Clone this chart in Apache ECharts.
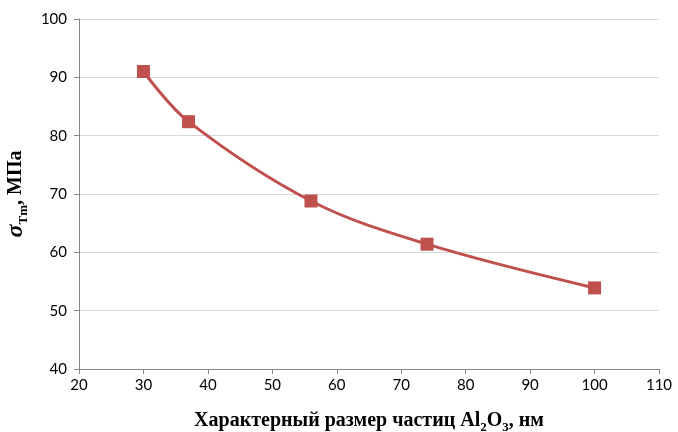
<!DOCTYPE html>
<html>
<head>
    <meta charset="UTF-8">
    <title>sigma</title>
    <script src="https://cdn.jsdelivr.net/npm/echarts@6/dist/echarts.min.js"></script>
    <style>
        body { margin: 0; background: #fff; }
        #container { width: 678px; height: 432px; }
    </style>
</head>
<body>
<div id="container"></div>
<script>
    // размер частиц, нм и предел текучести, МПа
    var sizes = [30, 37, 56, 74, 100];
    var sigma = [91, 82.4, 68.8, 61.4, 53.9];

    var data = sizes.map(function (s, i) { return [s, sigma[i]]; });
    var lblFont = 'Lato, "Open Sans", sans-serif';
    var ttlFont = '"Liberation Serif", "Times New Roman", serif';

    var myChart = echarts.init(document.getElementById('container'));
    myChart.setOption({
        animation: false,
        grid: { left: 79, right: 19, top: 19, bottom: 63, outerBoundsMode: 'none' },
        xAxis: {
            type: 'value',
            min: 20, max: 110, interval: 10,
            name: '{t|Характерный размер частиц Al}{s|2}{t|O}{s|3}{t|, нм}',
            nameLocation: 'middle',
            nameGap: 39,
            nameTextStyle: {
                rich: {
                    t: { fontFamily: ttlFont, fontWeight: 'bold', fontSize: 20, lineHeight: 26, color: '#000' },
                    s: { fontFamily: ttlFont, fontWeight: 'bold', fontSize: 13, lineHeight: 26, verticalAlign: 'bottom', color: '#000' }
                }
            },
            axisLine: { lineStyle: { color: '#868686', width: 1 } },
            axisTick: { show: true, length: 5, lineStyle: { color: '#868686' } },
            axisLabel: { color: '#000', fontSize: 15, fontFamily: lblFont, margin: 9 },
            splitLine: { show: false }
        },
        yAxis: {
            type: 'value',
            min: 40, max: 100, interval: 10,
            name: '{g|σ}{s|Тm}{t|, МПа}',
            nameLocation: 'middle',
            nameGap: 41,
            nameRotate: 90,
            nameTextStyle: {
                rich: {
                    g: { fontFamily: ttlFont, fontWeight: 'bold', fontStyle: 'italic', fontSize: 24, lineHeight: 28, color: '#000' },
                    t: { fontFamily: ttlFont, fontWeight: 'bold', fontSize: 20, lineHeight: 28, color: '#000' },
                    s: { fontFamily: ttlFont, fontWeight: 'bold', fontSize: 13, lineHeight: 28, verticalAlign: 'bottom', color: '#000' }
                }
            },
            axisLine: { show: true, lineStyle: { color: '#868686', width: 1 } },
            axisTick: { show: true, length: 5, lineStyle: { color: '#868686' } },
            axisLabel: { color: '#000', fontSize: 15, fontFamily: lblFont, margin: 12 },
            splitLine: { show: true, lineStyle: { color: '#d9d9d9', width: 1 } }
        },
        series: [{
            type: 'line',
            data: data,
            smooth: 0.35,
            symbol: 'rect',
            symbolSize: 13,
            lineStyle: { color: '#C0504D', width: 3 },
            itemStyle: { color: '#C0504D' }
        }]
    });
</script>
</body>
</html>
